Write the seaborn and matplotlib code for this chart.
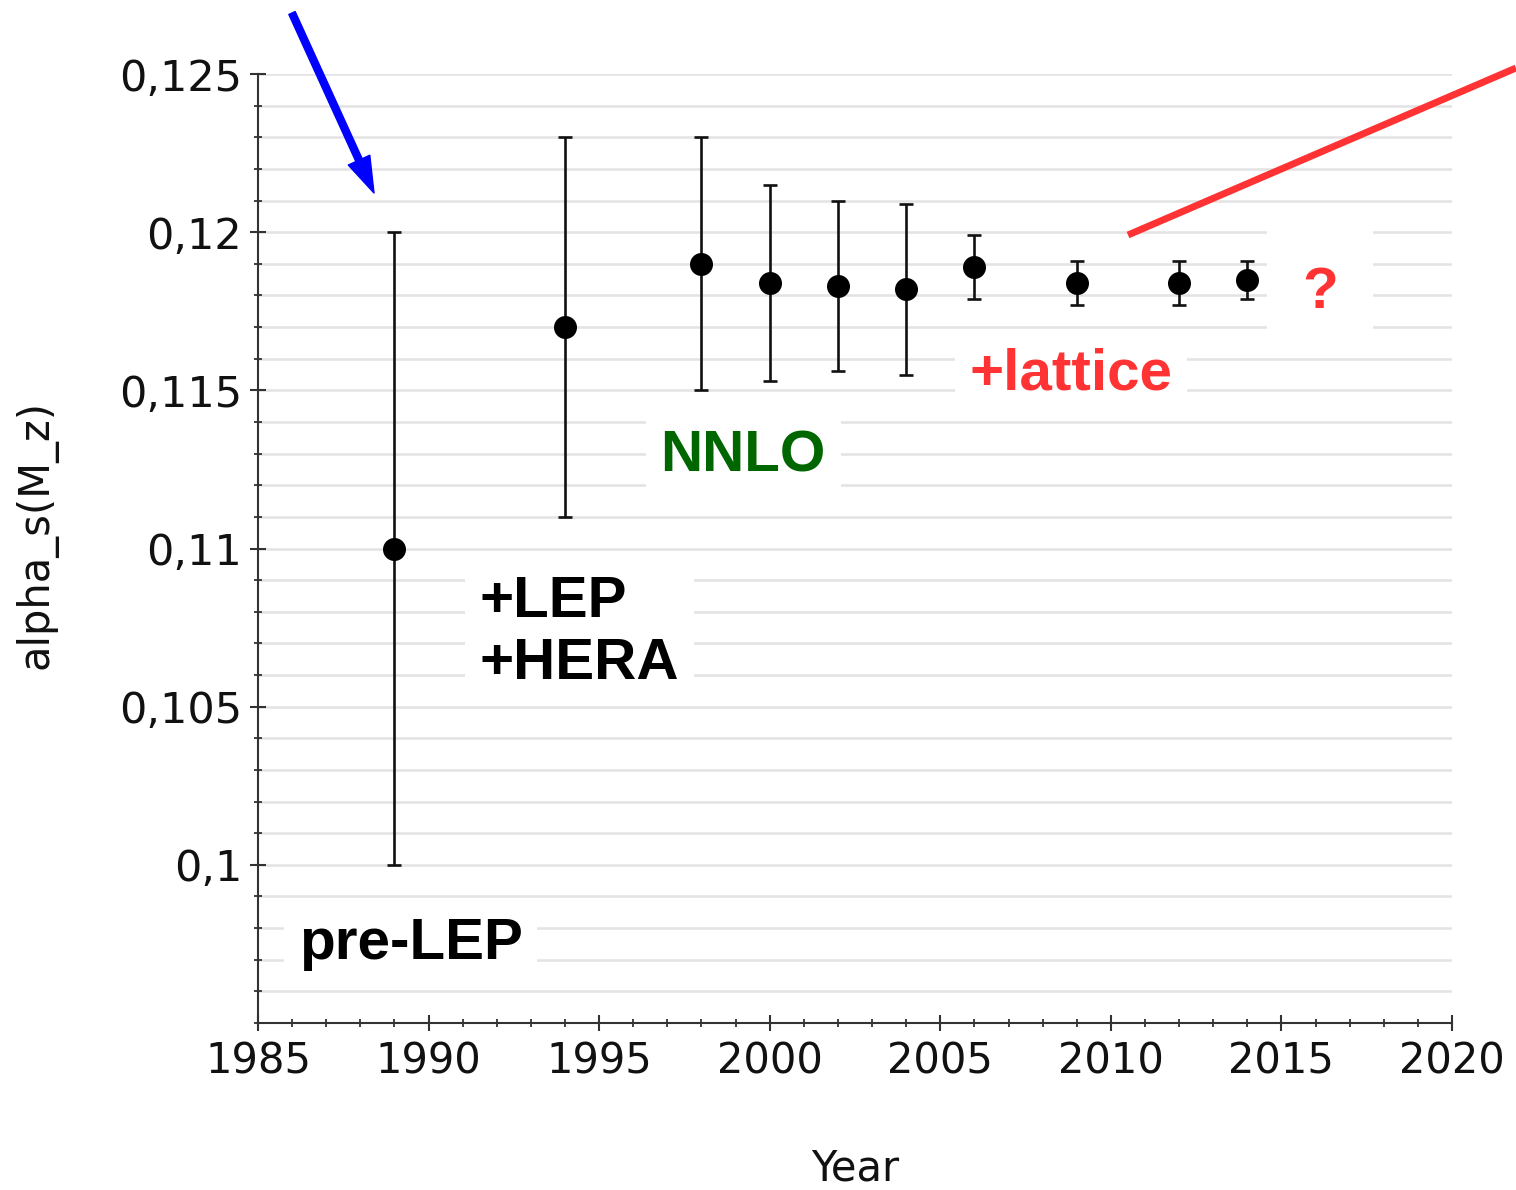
import numpy as np
import pandas as pd
import seaborn as sns
import matplotlib
matplotlib.use("Agg")
import matplotlib.pyplot as plt
from matplotlib.ticker import FixedLocator, MultipleLocator, FixedFormatter
from matplotlib.lines import Line2D

# ---- data ----
years = [1989, 1994, 1998, 2000, 2002, 2004, 2006, 2009, 2012, 2014]
alpha = [0.1100, 0.1170, 0.1190, 0.1184, 0.1183, 0.1182, 0.1189, 0.1184, 0.1184, 0.1185]
err_low = [0.1000, 0.1110, 0.1150, 0.1153, 0.1156, 0.1155, 0.1179, 0.1177, 0.1177, 0.1179]
err_high = [0.1200, 0.1230, 0.1230, 0.1215, 0.1210, 0.1209, 0.1199, 0.1191, 0.1191, 0.1191]

y_major = [0.100, 0.105, 0.110, 0.115, 0.120, 0.125]
y_major_labels = ["0,1", "0,105", "0,11", "0,115", "0,12", "0,125"]
x_major = [1985, 1990, 1995, 2000, 2005, 2010, 2015, 2020]
x_major_labels = ["1985", "1990", "1995", "2000", "2005", "2010", "2015", "2020"]

df = pd.DataFrame({"year": years, "alpha": alpha, "lo": err_low, "hi": err_high})

sns.set_theme(style="white")
plt.rcParams["font.family"] = ["DejaVu Sans"]

fig = plt.figure(figsize=(15.16, 11.9), dpi=100)
ax = fig.add_axes([258 / 1516, 1 - 1023 / 1190, (1452 - 258) / 1516, (1023 - 74) / 1190])

ax.set_xlim(1985, 2020)
ax.set_ylim(0.095, 0.125)

# grid lines every 0.001
ax.yaxis.set_major_locator(FixedLocator(y_major))
ax.yaxis.set_major_formatter(FixedFormatter(y_major_labels))
ax.yaxis.set_minor_locator(MultipleLocator(0.001))
ax.xaxis.set_major_locator(FixedLocator(x_major))
ax.xaxis.set_major_formatter(FixedFormatter(x_major_labels))
ax.xaxis.set_minor_locator(MultipleLocator(1))

ax.grid(False)
ax.yaxis.grid(True, which="both", color="#e3e3e3", linewidth=1.8, zorder=0)
ax.set_axisbelow(True)

for s in ["top", "right"]:
    ax.spines[s].set_visible(False)
for s in ["left", "bottom"]:
    ax.spines[s].set_color("#333333")
    ax.spines[s].set_linewidth(1.5)

ax.tick_params(axis="both", which="major", direction="inout", length=11, width=1.5,
               color="#333333", labelcolor="#111111")
ax.tick_params(axis="both", which="minor", direction="inout", length=6, width=1.3,
               color="#333333")
ax.tick_params(axis="y", which="major", pad=6, left=True, labelsize=31)
ax.tick_params(axis="y", which="minor", left=True)
ax.tick_params(axis="x", which="major", pad=7, bottom=True, labelsize=30)
ax.tick_params(axis="x", which="minor", bottom=True)

# error bars and points
ax.errorbar(df["year"], df["alpha"],
            yerr=[df["alpha"] - df["lo"], df["hi"] - df["alpha"]],
            fmt="none", ecolor="#111111", elinewidth=1.9, capsize=5, capthick=1.9, zorder=3)
sns.scatterplot(data=df, x="year", y="alpha", ax=ax, color="black", edgecolor="black",
                s=235, zorder=4, legend=False)

ax.set_xlabel("Year", fontsize=30, color="#111111")
ax.set_ylabel("alpha_s(M_z)", fontsize=30, color="#111111")
ax.xaxis.set_label_coords(0.5, -0.131)
ax.yaxis.set_label_coords(-0.168, 0.515)

# annotations
txt_font = dict(family=["Liberation Sans", "DejaVu Sans"], fontweight="bold", fontsize=42)
box = dict(boxstyle="square,pad=0.25", facecolor="white", edgecolor="none")
ax.text(1986.2, 0.09703, "pre-LEP", color="black", ha="left", va="baseline", bbox=box, zorder=2, **txt_font)
ax.text(1991.5, 0.10587, "+LEP\n+HERA", color="black", ha="left", va="baseline",
        bbox=dict(boxstyle="square,pad=0.25", facecolor="white", edgecolor="none"), zorder=2, **txt_font)
ax.text(1996.8, 0.11244, "NNLO", color="#006600", ha="left", va="baseline", bbox=box, zorder=2, **txt_font)
ax.text(2005.85, 0.11503, "+lattice", color="#ff3333", ha="left", va="baseline", bbox=box, zorder=2, **txt_font)
ax.text(2015.6, 0.11761, "?", color="#ff3333", ha="left", va="baseline",
        bbox=dict(boxstyle="square,pad=0.6", facecolor="white", edgecolor="none"), zorder=2, **txt_font)

# blue arrow (outside axes, figure coordinates)
ax.annotate("", xy=(374 / 1516, 1 - 193 / 1190), xytext=(292 / 1516, 1 - 13 / 1190),
            xycoords="figure fraction", textcoords="figure fraction", annotation_clip=False,
            arrowprops=dict(facecolor="#0000ff", edgecolor="#0000ff", width=5,
                            headwidth=17, headlength=26, shrink=0))

# red line
fig.add_artist(Line2D([1128 / 1516, 1.0], [1 - 235 / 1190, 1 - 68 / 1190],
                      transform=fig.transFigure, color="#ff3333", linewidth=5,
                      solid_capstyle="butt"))

fig.savefig("out.png", dpi=100)
